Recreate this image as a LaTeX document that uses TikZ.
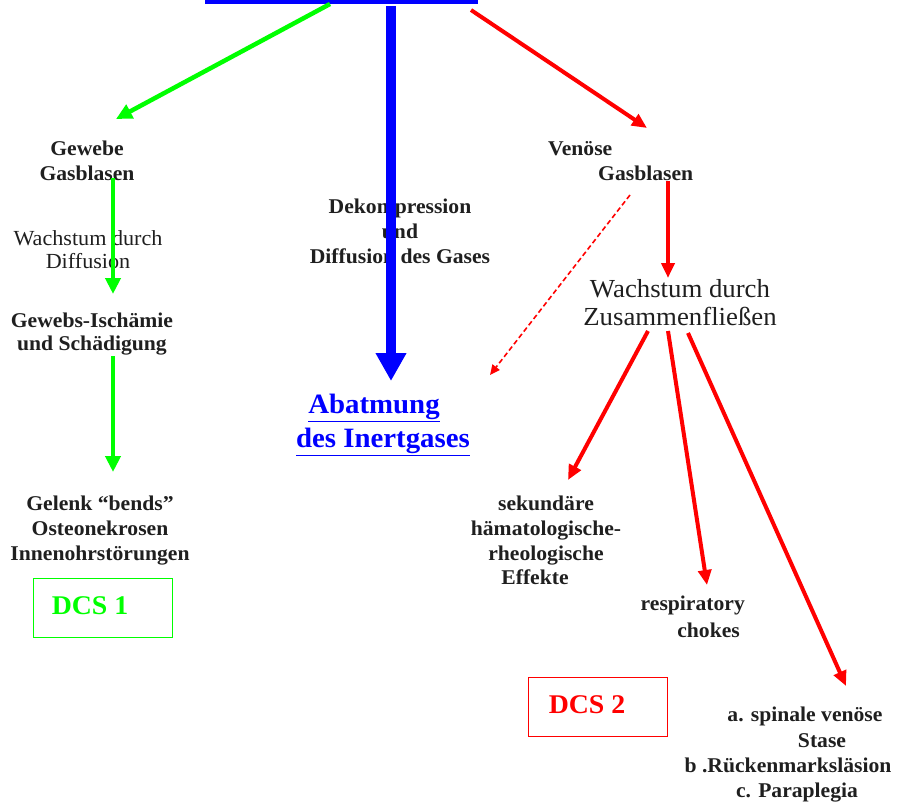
\documentclass[tikz,border=0pt]{standalone}
\usepackage{fontspec}
\setmainfont[FakeStretch=1.03]{Liberation Serif}
\usetikzlibrary{arrows.meta,calc}
\begin{document}
\begin{tikzpicture}[x=1pt,y=-1pt,
  lbl/.style={font=\bfseries\fontsize{21}{25}\selectfont, align=center, inner sep=0pt, text=black!88},
  lblreg/.style={font=\fontsize{21.5}{23}\selectfont, align=center, inner sep=0pt, text=black!88},
  garrow/.style={draw=green, line width=4.5pt, -{Triangle[length=16pt,width=15pt]}},
  rarrow/.style={draw=red, line width=4pt, -{Triangle[length=15pt,width=13pt]}},
  barrow/.style={draw=blue, line width=9.5pt, -{Triangle[length=28pt,width=29pt]}},
  darrow/.style={draw=red, line width=1.6pt, dash pattern=on 5pt off 3pt, -{Triangle[length=10pt,width=9pt]}},
  dcsbox/.style={line width=1.5pt, minimum width=139pt, minimum height=59pt, inner sep=0pt, font=\bfseries\fontsize{27}{27}\selectfont}
]
\useasboundingbox (0,0) rectangle (907,803);

% top box (cut off)
\node[draw=blue, line width=4pt, minimum width=269pt, minimum height=80pt, inner sep=0pt] (top) at (341.5,-38) {};

% left branch
\node[lbl, anchor=north] (gew) at (87,141) {Gewebe\\Gasblasen};
\node[lblreg, anchor=north] (wdiff) at (88,230) {Wachstum durch\\Diffusion};
\node[lbl, anchor=north, font=\bfseries\fontsize{21}{23}\selectfont] (isch) at (92,313) {Gewebs-Ischämie\\und Schädigung};
\node[lbl, anchor=north] (bends) at (100,496) {Gelenk “bends”\\Osteonekrosen\hspace*{16pt}\\Innenohrstörungen};
\node[dcsbox, draw=green, text=green] (dcs1) at (103,608) {\raisebox{4pt}{DCS 1}\hspace*{26pt}};

% middle
\node[lbl, anchor=north] (dek) at (400,199) {Dekompression\\und\\Diffusion des Gases};
\node[anchor=north, inner sep=0pt, align=center, text=blue, font=\bfseries\fontsize{28}{34}\selectfont] (abat) at (383,394) {\underline{Abatmung}\hspace*{18pt}\\\underline{des Inertgases}};

% right branch
\node[lbl, anchor=north west, align=left] (ven) at (548,141) {Venöse\\\hspace*{50pt}Gasblasen};
\node[lblreg, anchor=north, font=\fontsize{26}{28}\selectfont] (wz) at (680,279) {Wachstum durch\\Zusammenfließen};
\node[lbl, anchor=north, font=\bfseries\fontsize{21}{24.7}\selectfont] (sek) at (546,496) {sekundäre\\hämatologische-\\rheologische\\Effekte\hspace*{22pt}};
\node[lbl, anchor=north east, align=right, font=\bfseries\fontsize{21}{27}\selectfont] (resp) at (745,596) {respiratory\\chokes\hspace*{5pt}};
\node[lbl, anchor=north, font=\bfseries\fontsize{21}{25.3}\selectfont] (spin) at (788,707) {\hspace*{34pt}a. spinale venöse\\\hspace*{68pt}Stase\\b .Rückenmarksläsion\\\hspace*{18pt}c. Paraplegia};
\node[dcsbox, draw=red, text=red] (dcs2) at (598,707) {\raisebox{4pt}{DCS 2}\hspace*{22pt}};

% arrows
\draw[garrow] ($(top.south)+(-11.5,0)$) -- ($(gew.north)+(29,-22)$);
\draw[barrow] ($(top.south)+(49.5,2)$) -- ($(abat.north)+(8,-13)$);
\draw[rarrow] ($(top.south)+(129.5,6)$) -- ($(ven.north west)+(99,-13)$);
\draw[garrow] ($(gew.north)+(26,37)$) -- ($(isch.north)+(21,-19)$);
\draw[garrow] ($(isch.north)+(21,43)$) -- ($(bends.north)+(13,-24)$);
\draw[darrow] ($(ven.north west)+(82,54)$) -- ($(abat.north)+(107,-19)$);
\draw[rarrow] ($(ven.north west)+(120,40)$) -- ($(wz.north)+(-12,-1)$);
\draw[rarrow] ($(wz.north)+(-32,52)$) -- ($(sek.north)+(22,-16)$);
\draw[rarrow] ($(wz.north)+(-12,52)$) -- ($(resp.north east)+(-38,-11)$);
\draw[rarrow] ($(wz.north)+(8,54)$) -- ($(spin.north)+(58,-21)$);
\end{tikzpicture}
\end{document}
